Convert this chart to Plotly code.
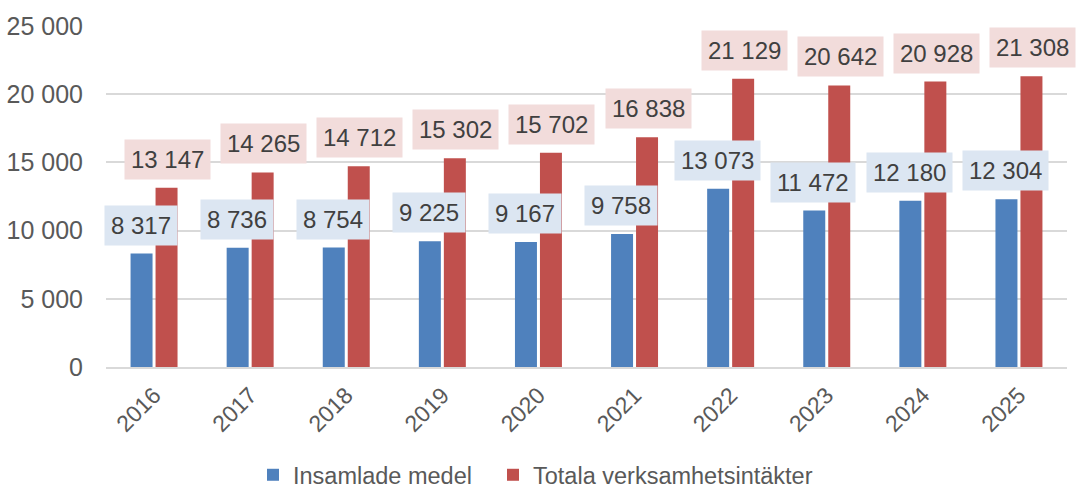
import plotly.graph_objects as go

years = ["2016", "2017", "2018", "2019", "2020", "2021", "2022", "2023", "2024", "2025"]
insamlade = [8317, 8736, 8754, 9225, 9167, 9758, 13073, 11472, 12180, 12304]
totala = [13147, 14265, 14712, 15302, 15702, 16838, 21129, 20642, 20928, 21308]
y_ticks = [0, 5000, 10000, 15000, 20000, 25000]
y_tick_text = ["0", "5 000", "10 000", "15 000", "20 000", "25 000"]

FONT = "Liberation Sans, Arial, sans-serif"
BLUE = "#4F81BD"
RED = "#C0504D"

def fmt(v):
    return f"{v:,}".replace(",", " ")

fig = go.Figure()
fig.add_bar(x=years, y=insamlade, name="Insamlade medel", legend="legend",
            marker=dict(color=BLUE, line=dict(width=0)))
fig.add_bar(x=years, y=totala, name="Totala verksamhetsintäkter", legend="legend2",
            marker=dict(color=RED, line=dict(width=0)))

annotations = []
for i, v in enumerate(totala):
    annotations.append(dict(x=i, y=v, xref="x", yref="y", text=fmt(v), showarrow=False,
                            xshift=13.5, yshift=8, yanchor="bottom", xanchor="center",
                            bgcolor="#F2DCDB", borderpad=6,
                            font=dict(family=FONT, size=24, color="#404040")))
for i, v in enumerate(insamlade):
    annotations.append(dict(x=i, y=v, xref="x", yref="y", text=fmt(v), showarrow=False,
                            xshift=-13.5, yshift=8, yanchor="bottom", xanchor="center",
                            bgcolor="#DCE6F2", borderpad=6,
                            font=dict(family=FONT, size=24, color="#404040")))

legend_common = dict(orientation="h", xref="container", yref="container",
                     xanchor="left", y=(489 - 475) / 489, yanchor="middle",
                     font=dict(family=FONT, size=23.5, color="#595959"), itemwidth=30,
                     bgcolor="rgba(0,0,0,0)")

fig.update_layout(
    width=1076, height=489,
    margin=dict(l=106, r=9, t=26, b=122, autoexpand=False),
    paper_bgcolor="white", plot_bgcolor="white",
    barmode="group", bargap=0.48, bargroupgap=0.12,
    font=dict(family=FONT, color="#595959"),
    annotations=annotations,
    showlegend=True,
    legend=dict(x=253 / 1076, **legend_common),
    legend2=dict(x=493 / 1076, **legend_common),
    xaxis=dict(type="category", range=[-0.5, len(years) - 0.5], autorange=False, automargin=False,
               tickangle=-45, tickfont=dict(family=FONT, size=23, color="#595959"),
               ticklabelstandoff=4,
               showgrid=False, ticks="", showline=True, linecolor="#D9D9D9", linewidth=1.5),
    yaxis=dict(range=[0, 25000], tickvals=y_ticks, ticktext=y_tick_text, automargin=False,
               tickfont=dict(family=FONT, size=25, color="#595959"),
               showgrid=True, gridcolor="#D9D9D9", gridwidth=1.5, zeroline=False,
               ticks="", ticklabelstandoff=22),
)

fig.write_html("out.html", config={"displayModeBar": False},
               post_script="document.body.style.margin='0';document.body.style.overflow='hidden';")
